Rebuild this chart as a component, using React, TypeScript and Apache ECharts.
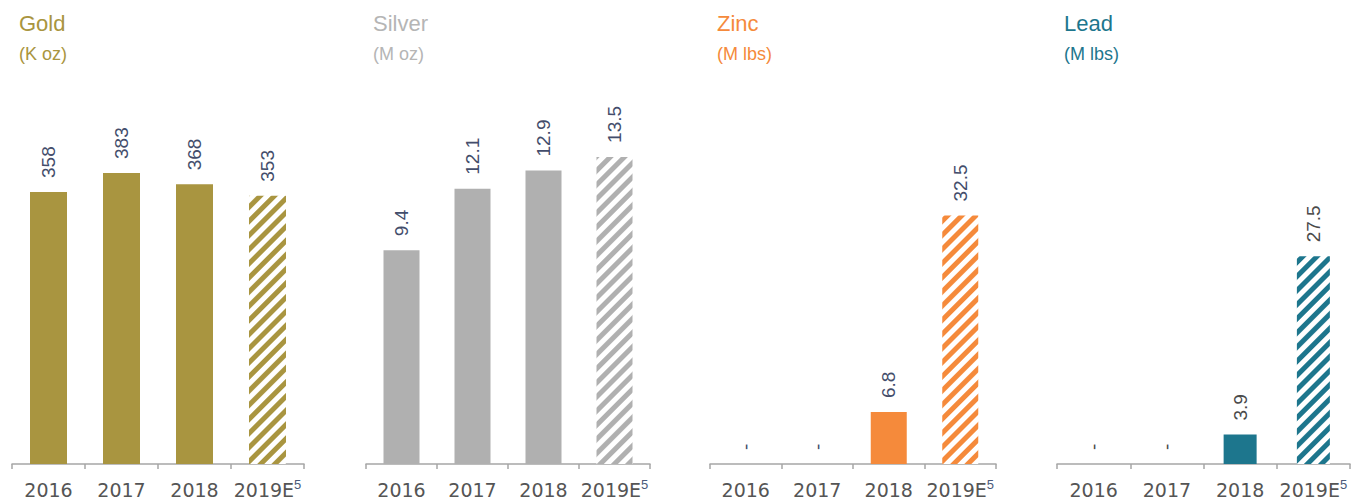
import React, { useEffect, useRef } from "react";
import * as echarts from "echarts";

const categories = ["2016", "2017", "2018", "2019E"];
const goldValues = [358, 383, 368, 353];
const silverValues = [9.4, 12.1, 12.9, 13.5];
const zincValues = [0, 0, 6.8, 32.5];
const leadValues = [0, 0, 3.9, 27.5];
const titles = ["Gold", "Silver", "Zinc", "Lead"];
const units = ["(K oz)", "(M oz)", "(M lbs)", "(M lbs)"];
const decimals = [0, 1, 1, 1];
const axisMax = [479, 16, 47.6, 48.2];
const estimateIndex = 3;

const colors = ["#a99540", "#b0b0b0", "#f58a3b", "#1d768d"];
const titleColors = ["#a99540", "#b5b5b5", "#f58a3b", "#1d768d"];
const labelColors = ["#434d6b", "#434d6b", "#434d6b", "#4a4a4a"];
const panels = [
  { left: 12, width: 292, bottom: 33, barWidth: 37 },
  { left: 366, width: 284, bottom: 33, barWidth: 36 },
  { left: 710, width: 286, bottom: 34, barWidth: 36 },
  { left: 1057, width: 293, bottom: 35, barWidth: 33 },
];

function hatchDecal(color: string) {
  return {
    symbol: "rect",
    symbolSize: 1,
    color: color,
    backgroundColor: "#ffffff",
    dashArrayX: [1, 0],
    dashArrayY: [4.5, 4.5],
    rotation: -Math.PI / 4,
  };
}

export default function App() {
  const ref = useRef<HTMLDivElement>(null);
  useEffect(() => {
    document.body.style.margin = "0";
    const chart = echarts.init(ref.current!, null, { renderer: "svg" });
    const allValues = [goldValues, silverValues, zincValues, leadValues];
    const font = "Liberation Sans";
    const axisFont = "DejaVu Sans";
    const option: any = {
      animation: false,
      backgroundColor: "#ffffff",
      textStyle: { fontFamily: font },
      title: titles.map((t, i) => ({
        text: t,
        subtext: units[i],
        left: panels[i].left + 7,
        top: 12,
        padding: 0,
        itemGap: 10,
        textStyle: { color: titleColors[i], fontSize: 22, fontWeight: "normal", fontFamily: font, lineHeight: 22 },
        subtextStyle: { color: titleColors[i], fontSize: 18, fontFamily: font, lineHeight: 20 },
      })),
      grid: panels.map((p) => ({ left: p.left, width: p.width, top: 100, bottom: p.bottom })),
      xAxis: panels.map((p, i) => ({
        type: "category",
        gridIndex: i,
        data: categories,
        axisLine: { lineStyle: { color: "#a6a6a6", width: 1.5 } },
        axisTick: { show: true, length: 5, lineStyle: { color: "#a6a6a6", width: 1.5 } },
        axisLabel: {
          interval: 0,
          hideOverlap: false,
          color: "#555555",
          fontSize: 19,
          lineHeight: 24,
          margin: 14,
          fontFamily: axisFont,
          formatter: (v: string) => (v === "2019E" ? "{n|2019E}{sup|5}" : "{n|" + v + "}"),
          rich: {
            n: { fontSize: 19, color: "#555555", lineHeight: 24, fontFamily: axisFont },
            sup: { fontSize: 13, color: "#4a5a7a", verticalAlign: "top", lineHeight: 14, fontFamily: font },
          },
        },
      })),
      yAxis: panels.map((p, i) => ({
        type: "value",
        gridIndex: i,
        min: 0,
        max: axisMax[i],
        show: false,
        splitLine: { show: false },
      })),
      series: allValues.map((vals, i) => ({
        type: "bar",
        xAxisIndex: i,
        yAxisIndex: i,
        barWidth: panels[i].barWidth,
        data: vals.map((v, j) =>
          j === estimateIndex
            ? { value: v, itemStyle: { color: "#ffffff", decal: hatchDecal(colors[i]) } }
            : { value: v }
        ),
        itemStyle: { color: colors[i] },
        label: {
          show: true,
          position: "top",
          rotate: 90,
          align: "left",
          verticalAlign: "middle",
          distance: 14,
          fontSize: 19,
          fontFamily: font,
          color: labelColors[i],
          formatter: (p: any) => (p.value === 0 ? "-" : Number(p.value).toFixed(decimals[i])),
        },
      })),
    };
    chart.setOption(option);
    return () => chart.dispose();
  }, []);
  return <div ref={ref} style={{ width: 1354, height: 502 }} />;
}
